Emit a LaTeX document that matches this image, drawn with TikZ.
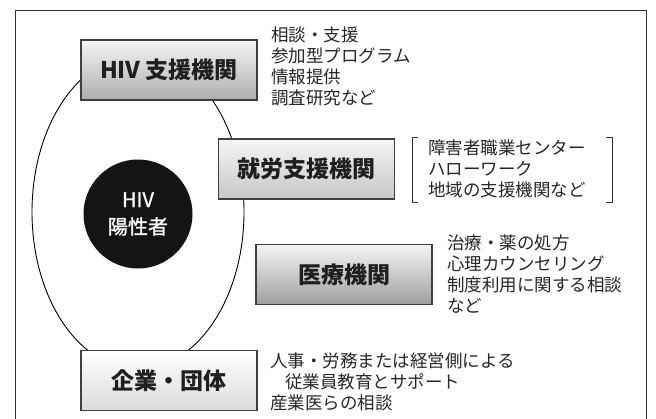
\documentclass[tikz,border=0pt]{standalone}
\usepackage{fontspec}
\setmainfont{Noto Sans CJK JP}
\newfontfamily\jpmed{Noto Sans CJK JP}[FakeBold=1.3]
\begin{document}
\begin{tikzpicture}[x=1pt,y=-1pt,
  orgbox/.style={draw=black!75,line width=1.1pt,minimum width=176pt,minimum height=60pt,inner sep=0pt,
    font=\bfseries\fontsize{23}{23}\selectfont,text=black!88},
  sidetext/.style={anchor=west,align=left,inner sep=0pt,font=\fontsize{17.5}{21}\selectfont,text=black!85},
  brk/.style={draw=black!80,line width=0.9pt}]
\useasboundingbox (0,0) rectangle (656,418);
% outer frame (bottom edge lies beyond the picture)
\draw[black!80,line width=0.9pt] (15,440) -- (15,10) -- (646,10) -- (646,440);
% ellipse
\draw[black,line width=0.9pt] (138,212) ellipse [x radius=106, y radius=157];
% boxes
\node[orgbox,top color=white!96!black,bottom color=black!32] (hiv) at (169,70) {HIV 支援機関};
\node[orgbox,top color=white!96!black,bottom color=black!22] (job) at (306.5,169) {就労支援機関};
\node[orgbox,top color=white!96!black,bottom color=black!38] (med) at (344,274.5) {医療機関};
\node[orgbox,top color=white,bottom color=black!14] (corp) at (169,380.5) {企業・団体};
% center circle
\node[circle,fill=black!92,minimum size=109pt,inner sep=0pt,text=white,align=center,
  font=\jpmed\fontsize{20}{27}\selectfont] (pos) at (138,214) {HIV\\陽性者};
% side texts
\node[sidetext] (hivtxt) at (271,66) {相談・支援\\参加型プログラム\\情報提供\\調査研究など};
\node[sidetext] (jobtxt) at (428,168.5) {障害者職業センター\\ハローワーク\\地域の支援機関など};
\node[sidetext] (medtxt) at (447,274.5) {治療・薬の処方\\心理カウンセリング\\制度利用に関する相談\\など};
\node[sidetext] (corptxt) at (270,382) {人事・労務または経営側による\\\hspace*{15pt}従業員教育とサポート\\産業医らの相談};
% brackets
\coordinate (lb1) at (418,137); \coordinate (lb2) at (412,137);
\coordinate (lb3) at (412,202); \coordinate (lb4) at (418,202);
\coordinate (rb1) at (606,137); \coordinate (rb2) at (612,137);
\coordinate (rb3) at (612,202); \coordinate (rb4) at (606,202);
\draw[brk] (lb1) -- (lb2) -- (lb3) -- (lb4);
\draw[brk] (rb1) -- (rb2) -- (rb3) -- (rb4);
\end{tikzpicture}
\end{document}
